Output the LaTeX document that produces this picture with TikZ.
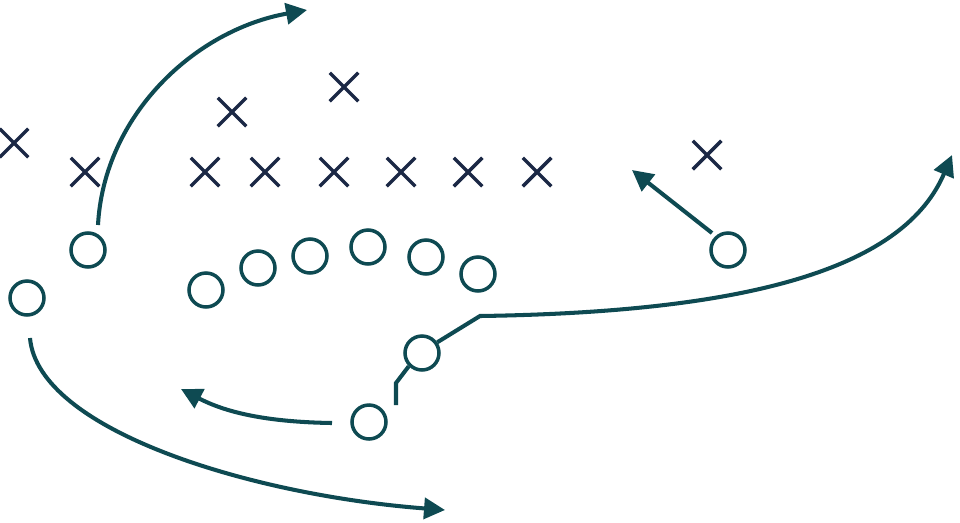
\documentclass[tikz,border=0pt]{standalone}
\usetikzlibrary{arrows.meta,shapes.misc}
\definecolor{teal}{HTML}{0E4A52}
\definecolor{navy}{HTML}{1B2845}
\tikzset{
	player/.style={circle,draw=teal,line width=2pt,minimum size=0.68cm,inner sep=0pt},
	defender/.style={cross out,draw=navy,line width=2pt,minimum size=0.5cm,inner sep=0pt},
	route/.style={draw=teal,line width=2.3pt},
	runs/.style={route,-{Triangle[length=0.42cm,width=0.42cm]}}
}
\begin{document}
\begin{tikzpicture}[x=0.02cm,y=-0.02cm]
		\useasboundingbox (0,0) rectangle (960,522);
		\node[defender] (d1) at (14,143) {}; \node[defender] (d2) at (85,172) {};
		\node[defender] (d3) at (232,112) {}; \node[defender] (d4) at (344,87) {};
		\node[defender] (d5) at (205,172) {}; \node[defender] (d6) at (265,172) {};
		\node[defender] (d7) at (334,172) {}; \node[defender] (d8) at (401,172) {};
		\node[defender] (d9) at (468,172) {}; \node[defender] (d10) at (537,172) {};
		\node[defender] (d11) at (707,155) {};
		\node[player] (wr) at (88,250) {}; \node[player] (se) at (27,298) {};
		\node[player] (l1) at (206,290) {}; \node[player] (l2) at (258,268) {};
		\node[player] (l3) at (310,256) {}; \node[player] (l4) at (368,247) {};
		\node[player] (l5) at (426,257) {}; \node[player] (l6) at (478,274) {};
		\node[player] (te) at (728,250) {};
		\node[player] (qb) at (422,353) {}; \node[player] (rb) at (369,422) {};
		\coordinate (wrgo) at (307,10); \coordinate (seout) at (445,510);
		\coordinate (rbflat) at (181,389); \coordinate (tein) at (632,170);
		\coordinate (bend) at (480,316); \coordinate (qbout) at (952,155);
		\coordinate (drop) at (396,383);
		\draw[runs] (98,225) .. controls (104,115) and (195,30) .. (wrgo);
		\draw[runs] (30,338) .. controls (38,430) and (250,495) .. (seout);
		\draw[runs] (332,423) .. controls (265,422) and (225,412) .. (rbflat);
		\draw[runs] (712,233) -- (tein);
		\draw[runs] (qb.35) -- (bend) .. controls (760,312) and (905,265) .. (qbout);
		\draw[route] (qb.225) -- (drop) -- (396,405);
	\end{tikzpicture}
\end{document}
